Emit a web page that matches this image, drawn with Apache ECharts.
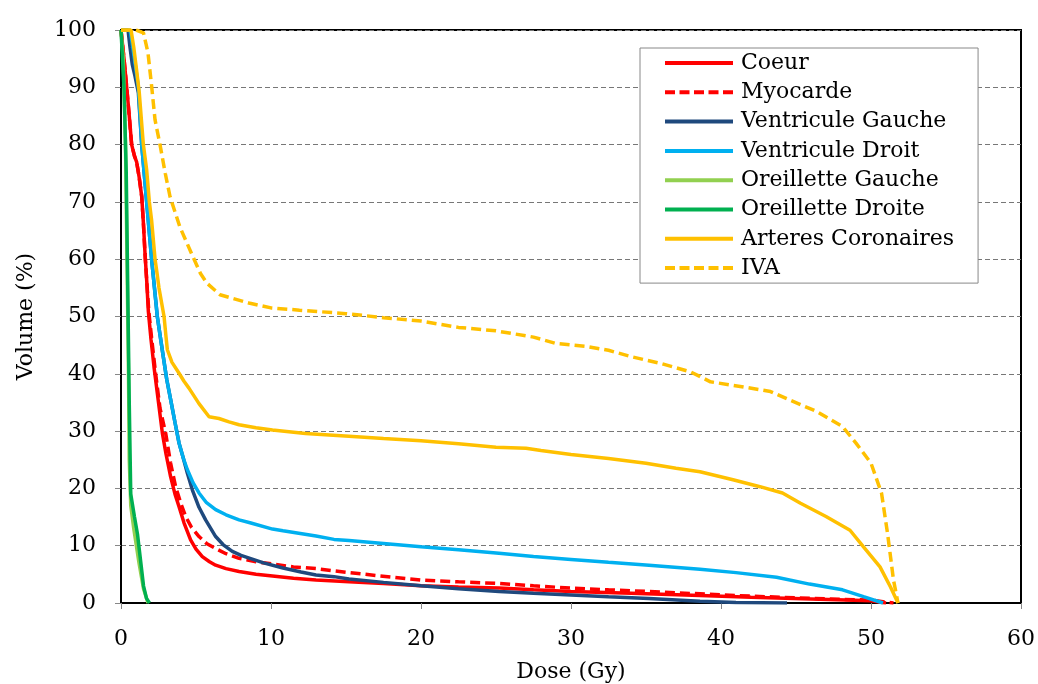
<!DOCTYPE html>
<html>
<head>
<meta charset="utf-8">
<script src="https://cdn.jsdelivr.net/npm/echarts@6/dist/echarts.min.js"></script>
<style>
html,body{margin:0;padding:0;background:#fff;}
#chart{width:1038px;height:684px;}
</style>
</head>
<body>
<div id="chart"></div>
<script>
var seriesNames = ['Coeur','Myocarde','Ventricule Gauche','Ventricule Droit','Oreillette Gauche','Oreillette Droite','Arteres Coronaires','IVA'];
var xTicks = [0,10,20,30,40,50,60];
var yTicks = [0,10,20,30,40,50,60,70,80,90,100];

var coeur = [[0,100],[0.1,100],[0.2,95],[0.38,90],[0.55,85],[0.71,80],[0.9,78],[1.04,77],[1.2,74.5],[1.38,71],[1.5,66],[1.6,61],[1.72,56],[1.82,51],[2.0,46],[2.2,41.2],[2.5,35],[2.76,29.6],[3.0,26],[3.31,22],[3.6,19],[3.87,16.8],[4.2,14],[4.64,11],[5.0,9.4],[5.42,8.1],[5.9,7.2],[6.31,6.6],[7.0,6.0],[7.87,5.5],[9,5.0],[10.1,4.7],[11.5,4.3],[13,4.0],[15.2,3.7],[17.5,3.4],[20,3.0],[22.5,2.8],[25.2,2.6],[27.5,2.3],[30,2.0],[34,1.7],[38.6,1.3],[42,1.0],[46,0.7],[50,0.4],[51,0]];
var myocarde = [[0,100],[0.1,100],[0.2,95],[0.38,90],[0.55,85],[0.71,80],[0.9,78],[1.04,77],[1.2,74.5],[1.38,71],[1.5,66],[1.6,61],[1.72,56],[1.85,51],[2.05,46],[2.31,40],[2.6,34],[2.98,29.6],[3.3,24.5],[3.64,20.3],[4.0,17.3],[4.31,15.1],[4.7,13.2],[5.2,11.6],[5.7,10.4],[6.31,9.5],[7.0,8.6],[7.87,7.8],[9,7.2],[10.1,6.8],[11.5,6.3],[13,6.0],[14.2,5.6],[17,4.8],[20,4.0],[22.5,3.7],[25.2,3.4],[27.5,3.0],[30,2.6],[32.5,2.3],[35.2,2.0],[38.6,1.6],[41,1.3],[43,1.1],[46,0.8],[50,0.5],[51.5,0]];
var ventGauche = [[0,100],[0.47,100],[0.6,97],[0.75,94],[0.93,92],[1.16,89],[1.38,80],[1.71,70],[2.04,60],[2.42,50],[2.76,44],[3.05,39],[3.31,35.5],[3.6,31.5],[3.87,27.9],[4.15,25.3],[4.42,22.7],[4.76,19.7],[5.2,16.7],[5.64,14.5],[6.31,11.6],[6.8,10.2],[7.42,9.0],[8.0,8.3],[8.6,7.8],[9.5,7.0],[10.8,6.1],[12,5.4],[13,4.9],[14.2,4.6],[15.2,4.2],[17.5,3.6],[20,3.0],[22.5,2.5],[25.2,2.0],[27.5,1.7],[30,1.4],[32.5,1.1],[35.2,0.8],[38.6,0.3],[41,0.1],[44.4,0]];
var ventDroit = [[0,100],[0.6,100],[0.73,98],[0.95,94],[1.16,90],[1.38,80],[1.71,70],[2.04,60],[2.42,50],[2.76,44],[3.05,39],[3.31,35.5],[3.6,31.5],[3.87,27.9],[4.15,25.3],[4.42,23.3],[4.8,21],[5.2,19.2],[5.7,17.5],[6.31,16.3],[7.0,15.4],[7.87,14.5],[8.6,14.0],[10.1,12.9],[10.8,12.6],[13,11.7],[14.2,11.1],[15.2,10.9],[17.5,10.4],[20,9.8],[22.5,9.3],[25.2,8.7],[27.5,8.1],[30,7.6],[32.5,7.1],[35.2,6.6],[38.6,5.9],[41,5.3],[43.7,4.5],[45.9,3.3],[48.1,2.3],[49.5,1.1],[50.8,0]];
var oreilGauche = [[0,100],[0.15,95],[0.3,80],[0.4,60],[0.5,40],[0.55,25],[0.65,17],[0.85,13],[1.2,7],[1.5,2.5],[1.8,0]];
var oreilDroite = [[0,100],[0.2,90],[0.35,75],[0.45,55],[0.55,35],[0.65,19],[0.9,15],[1.1,12],[1.3,7.5],[1.5,3],[1.7,0.8],[1.9,0]];
var arteres = [[0,100],[0.67,100],[0.85,97],[1.04,93],[1.22,89],[1.49,80],[1.71,75.6],[1.89,70],[2.04,66.8],[2.27,60],[2.38,58],[2.53,55],[2.87,50],[3.0,46.5],[3.09,44.2],[3.4,42],[3.87,40.1],[4.2,38.7],[4.53,37.5],[5.2,34.8],[5.87,32.5],[6.53,32.2],[7.2,31.6],[7.87,31.1],[9,30.6],[10.1,30.2],[12.3,29.6],[15.2,29.1],[17.5,28.7],[20,28.3],[22.5,27.8],[25,27.2],[27,27.0],[28,26.6],[30,25.9],[32.5,25.2],[35,24.4],[37,23.5],[38.6,22.9],[40.8,21.5],[42.6,20.3],[44.1,19.2],[45.3,17.4],[47.0,15.1],[48.6,12.7],[49.5,9.8],[50.6,6.3],[51.3,2.8],[51.8,0]];
var iva = [[0,100],[0.5,100],[1.0,100],[1.5,99.5],[1.8,96],[2.05,90],[2.27,84.3],[2.6,80],[2.95,75],[3.27,70.9],[3.93,65.6],[4.8,60.4],[5.3,57.5],[5.73,55.8],[6.6,53.8],[8.6,52.3],[10,51.5],[11.9,51.1],[15,50.5],[17.5,49.8],[20,49.2],[22.5,48.1],[25,47.5],[27.5,46.4],[29,45.3],[31,44.8],[32.5,44.1],[34,43],[36,41.8],[38,40.3],[39.3,38.6],[41.5,37.7],[43.3,36.9],[44.6,35.4],[46.4,33.4],[48.1,30.8],[49.0,27.9],[50.0,24.4],[50.7,19.2],[51.1,12.2],[51.5,4],[51.8,0]];

var seriesData = [coeur, myocarde, ventGauche, ventDroit, oreilGauche, oreilDroite, arteres, iva];
var seriesColors = ['#FF0000','#FF0000','#1F497D','#00B0F0','#92D050','#00B050','#FFC000','#FFC000'];
var seriesDashed = [false,true,false,false,false,false,false,true];

var SOLID_ICON = 'path://M0,0h68v4h-68z';
var DASH_ICON = 'path://M0,0h10v4h-10z M14.5,0h10v4h-10z M29,0h10v4h-10z M43.5,0h10v4h-10z M58,0h10v4h-10z';

var FONT = 'DejaVu Serif';
var chart = echarts.init(document.getElementById('chart'));
var series = seriesNames.map(function(n,i){
  return {
    name: n, type: 'line', data: seriesData[i], showSymbol: false, symbol: 'none',
    smooth: false, animation: false,
    lineStyle: { color: seriesColors[i], width: 3.5, type: seriesDashed[i] ? [10,5] : 'solid' },
    itemStyle: { color: seriesColors[i] }
  };
});
chart.setOption({
  backgroundColor: '#fff',
  animation: false,
  grid: { left: 121, right: 17, top: 30, bottom: 81, containLabel: false, outerBoundsMode: 'none', show: true, borderColor: '#000', borderWidth: 2, backgroundColor: 'transparent' },
  legend: {
    orient: 'vertical', left: 640, top: 48,
    padding: [4, 24, 4, 25],
    itemWidth: 68, itemHeight: 4, itemGap: 7.3,
    borderColor: '#888', borderWidth: 1, backgroundColor: '#fff',
    textStyle: { fontFamily: FONT, fontSize: 22, color: '#000', lineHeight: 22, padding: [0,0,0,3] },
    data: seriesNames.map(function(n,i){ return { name: n, icon: seriesDashed[i] ? DASH_ICON : SOLID_ICON, itemStyle: { color: seriesColors[i] } }; })
  },
  xAxis: {
    type: 'value', min: 0, max: 60, interval: 10,
    name: 'Dose (Gy)', nameLocation: 'middle', nameGap: 58,
    nameTextStyle: { fontFamily: FONT, fontSize: 22, color: '#000' },
    axisLine: { show: true, lineStyle: { color: '#000', width: 2 } },
    axisTick: { show: true, length: 6, lineStyle: { color: '#888', width: 1 } },
    axisLabel: { fontFamily: FONT, fontSize: 22, color: '#000', margin: 25 },
    splitLine: { show: false }
  },
  yAxis: {
    type: 'value', min: 0, max: 100, interval: 10,
    name: 'Volume (%)', nameLocation: 'middle', nameGap: 84, nameRotate: 90,
    nameTextStyle: { fontFamily: FONT, fontSize: 22, color: '#000' },
    axisLine: { show: true, lineStyle: { color: '#000', width: 2 } },
    axisTick: { show: true, length: 6, lineStyle: { color: '#888', width: 1 } },
    axisLabel: { fontFamily: FONT, fontSize: 22, color: '#000', margin: 25 },
    splitLine: { show: true, lineStyle: { color: '#777', width: 1, type: [5,3] } }
  },
  series: series
});
</script>
</body>
</html>
